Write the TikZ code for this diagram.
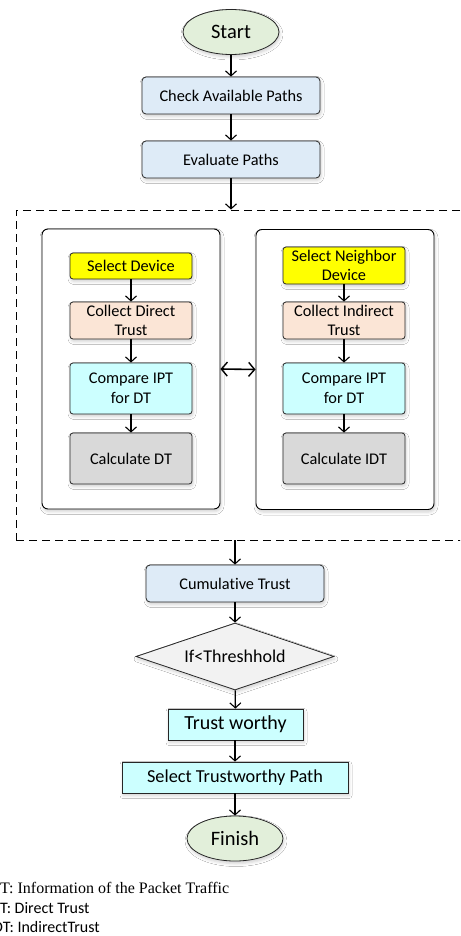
\documentclass[tikz,border=0pt]{standalone}
\usepackage{fontspec}
\setmainfont{Carlito}[Ligatures=NoCommon]
\newfontfamily\legendserif{Liberation Serif}
\usetikzlibrary{arrows.meta,shapes.geometric,shadows.blur}

\definecolor{termfill}{HTML}{E2EFDA}
\definecolor{stepfill}{HTML}{DEEBF7}
\definecolor{pickfill}{HTML}{FFFF00}
\definecolor{collectfill}{HTML}{FBE5D6}
\definecolor{cyanfill}{HTML}{CCFFFF}
\definecolor{calcfill}{HTML}{D9D9D9}
\definecolor{decfill}{HTML}{F2F2F2}
\definecolor{edge}{HTML}{262626}

\tikzset{
  soft/.style={blur shadow={shadow xshift=1pt,shadow yshift=-2.5pt,
      shadow blur radius=3pt,shadow opacity=18}},
  terminal/.style={ellipse,draw=edge,line width=0.8pt,fill=termfill,
      minimum width=96pt,minimum height=45pt,inner sep=0pt,soft,
      font=\fontsize{20.5}{22}\selectfont},
  stepbox/.style={rectangle,rounded corners=4pt,draw=edge,line width=0.8pt,
      fill=stepfill,minimum width=178pt,minimum height=37pt,inner sep=0pt,soft,
      font=\fontsize{16.3}{18}\selectfont},
  inbox/.style={rectangle,rounded corners=3pt,draw=edge,line width=0.8pt,
      minimum width=122pt,inner sep=0pt,align=center,soft,
      font=\fontsize{16.3}{19.7}\selectfont},
  panel/.style={rectangle,rounded corners=6pt,draw=black,line width=0.9pt,
      fill=white,minimum width=178pt,minimum height=280pt,soft},
  group/.style={rectangle,draw=black,line width=0.9pt,
      dash pattern=on 8pt off 5pt},
  decision/.style={diamond,aspect=2.95,draw=edge,line width=0.8pt,fill=decfill,
      minimum width=198pt,minimum height=67pt,inner sep=0pt,soft,
      font=\fontsize{18}{20}\selectfont},
  sharpbox/.style={rectangle,draw=edge,line width=0.8pt,fill=cyanfill,
      inner sep=0pt,soft},
  flow/.style={-{Straight Barb[length=5pt,width=11pt,line width=1.1pt]},
      line width=1.3pt},
  both/.style={{Straight Barb[length=6pt,width=14pt,line width=1.4pt]}-{Straight Barb[length=6pt,width=14pt,line width=1.4pt]},
      line width=1.6pt},
  legend/.style={anchor=base west,inner sep=0pt}
}

\begin{document}
\begin{tikzpicture}[x=1pt,y=-1pt]
\clip (0,0) rectangle (460,936);
\fill[white] (0,0) rectangle (460,936);

% main column, upper part
\node[terminal] (start) at (231,32) {Start};
\node[stepbox] (check) at (231,95.5) {Check Available Paths};
\node[stepbox] (eval) at (231,159.5) {Evaluate Paths};

% dashed group holding both trust branches
\node[group,minimum width=460pt,minimum height=330pt] (grp) at (246,375) {};

% direct trust branch
\node[panel] (lpanel) at (131,369) {};
\node[inbox,fill=pickfill,minimum height=26pt] (seldev) at (131,266) {Select Device};
\node[inbox,fill=collectfill,minimum height=37pt] (coldt) at (131,320.5) {Collect Direct\\Trust};
\node[inbox,fill=cyanfill,minimum height=51pt] (cmpl) at (131,388.5) {Compare IPT\\for DT};
\node[inbox,fill=calcfill,minimum height=51pt] (caldt) at (131,458.5) {Calculate DT};

% indirect trust branch
\node[panel] (rpanel) at (345,369.5) {};
\node[inbox,fill=pickfill,minimum height=37pt] (selnb) at (344,265.5) {Select Neighbor\\Device};
\node[inbox,fill=collectfill,minimum height=37pt] (colidt) at (344,320.5) {Collect Indirect\\Trust};
\node[inbox,fill=cyanfill,minimum height=51pt] (cmpr) at (344,388.5) {Compare IPT\\for DT};
\node[inbox,fill=calcfill,minimum height=51pt] (calidt) at (344,458.5) {Calculate IDT};

% main column, lower part
\node[stepbox] (cum) at (235,583.5) {Cumulative Trust};
\node[decision] (thr) at (235,656.5) {If<Threshhold};
\node[sharpbox,minimum width=135pt,minimum height=31pt,
      font=\fontsize{20}{22}\selectfont] (worthy) at (235.5,724.5) {Trust worthy};
\node[sharpbox,minimum width=226pt,minimum height=31pt,
      font=\fontsize{18.3}{20}\selectfont] (selpath) at (235,777.5) {Select Trustworthy Path};
\node[terminal] (finish) at (235,838.5) {Finish};

% connectors
\draw[flow] (start) -- (check);
\draw[flow] (check) -- (eval);
\draw[flow] (eval) -- (eval |- grp.north);
\draw[flow] (seldev) -- (coldt);
\draw[flow] (coldt) -- (cmpl);
\draw[flow] (cmpl) -- (caldt);
\draw[flow] (selnb.south -| colidt) -- (colidt);
\draw[flow] (colidt) -- (cmpr);
\draw[flow] (cmpr) -- (calidt);
\draw[both] (lpanel.east) -- (rpanel.west);
\draw[flow] (grp.south -| cum) -- (cum);
\draw[flow] (cum) -- (thr);
\draw[flow] (thr) -- (worthy);
\draw[flow] (worthy.south -| selpath) -- (selpath);
\draw[flow] (selpath) -- (finish);

% abbreviations
\node[legend,font=\legendserif\fontsize{16}{18}\selectfont] (leg1) at (-14.2,893) {IPT: Information of the Packet Traffic};
\node[legend,font=\fontsize{16}{18}\selectfont] (leg2) at (-9.8,913) {DT: Direct Trust};
\node[legend,font=\fontsize{16}{18}\selectfont] (leg3) at (-11,932) {IDT: IndirectTrust};
\end{tikzpicture}
\end{document}
